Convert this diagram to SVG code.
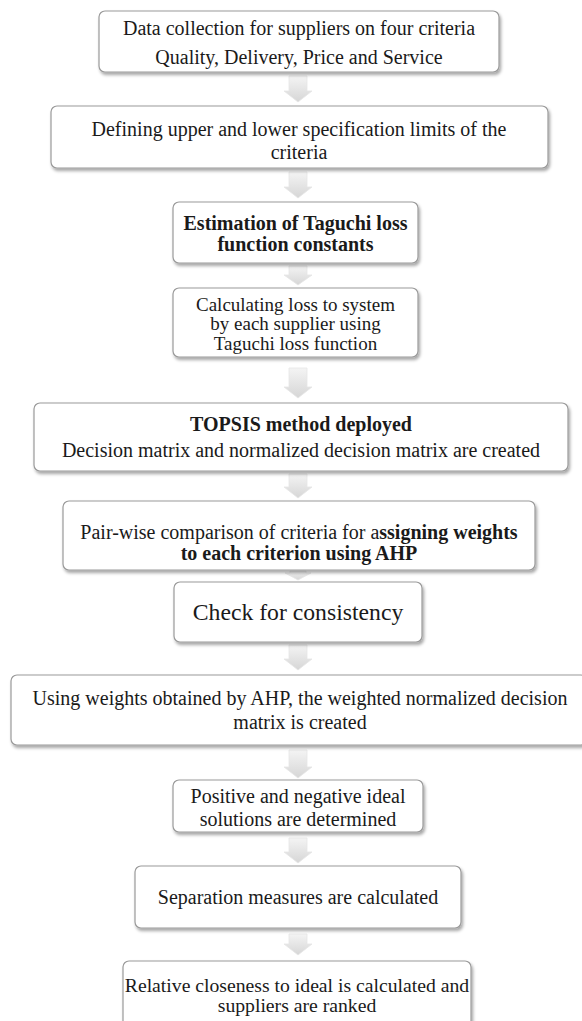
<svg xmlns="http://www.w3.org/2000/svg" width="582" height="1021" viewBox="0 0 582 1021">
<defs>
<filter id="sh" x="-10%" y="-20%" width="120%" height="150%">
<feDropShadow dx="1.5" dy="2.5" stdDeviation="1.8" flood-color="#000" flood-opacity="0.35"/>
</filter>
<linearGradient id="ag" x1="0" y1="0" x2="0" y2="1">
<stop offset="0" stop-color="#f4f4f4"/>
<stop offset="1" stop-color="#d6d6d6"/>
</linearGradient>
<style>
.box{fill:#fff;stroke:#9a9a9a;stroke-width:1.2;filter:url(#sh)}
.t{font-family:"Liberation Serif","Times New Roman",serif;fill:#1a1a1a;text-anchor:middle;font-size:20px}
.b{font-weight:bold}
.arr{fill:url(#ag);stroke:#e6e6e6;stroke-width:0.8}
</style>
</defs>
<g id="connectors">
<path class="arr" d="M289,76 h18 v15 h5 l-14,11 l-14,-11 h5 z"/>
<path class="arr" d="M289,172 h18 v15 h5 l-14,11 l-14,-11 h5 z"/>
<path class="arr" d="M289,266 h18 v9 h5 l-14,10 l-14,-10 h5 z"/>
<path class="arr" d="M289,368 h18 v19 h5 l-14,11 l-14,-11 h5 z"/>
<path class="arr" d="M289,474 h18 v13 h5 l-14,11 l-14,-11 h5 z"/>
<path class="arr" d="M290,571 h16 v2 h5 l-13,7 l-13,-7 h5 z"/>
<path class="arr" d="M289,645 h18 v14 h5 l-14,11 l-14,-11 h5 z"/>
<path class="arr" d="M289,750 h18 v17 h5 l-14,11 l-14,-11 h5 z"/>
<path class="arr" d="M289,838 h18 v14 h5 l-14,11 l-14,-11 h5 z"/>
<path class="arr" d="M289,934 h18 v10 h5 l-14,11 l-14,-11 h5 z"/>
</g>
<g id="n1">
<rect class="box" x="99" y="11" width="400" height="61" rx="6"/>
<text class="t" x="299" y="35">Data collection for suppliers on four criteria</text>
<text class="t" x="299" y="64">Quality, Delivery, Price and Service</text>
</g>
<g id="n2">
<rect class="box" x="51" y="106" width="497" height="62" rx="6"/>
<text class="t" x="299" y="136">Defining upper and lower specification limits of the</text>
<text class="t" x="299" y="159">criteria</text>
</g>
<g id="n3">
<rect class="box" x="173" y="202" width="245" height="61" rx="6"/>
<text class="t b" x="295.5" y="230">Estimation of Taguchi loss</text>
<text class="t b" x="295.5" y="251">function constants</text>
</g>
<g id="n4">
<rect class="box" x="173" y="288" width="245" height="69" rx="6"/>
<text class="t" x="295.5" y="310.5" style="font-size:19px">Calculating loss to system</text>
<text class="t" x="295.5" y="330" style="font-size:19px">by each supplier using</text>
<text class="t" x="295.5" y="349.5" style="font-size:19px">Taguchi loss function</text>
</g>
<g id="n5">
<rect class="box" x="34" y="403" width="534" height="68" rx="6"/>
<text class="t b" x="301" y="431">TOPSIS method deployed</text>
<text class="t" x="301" y="457">Decision matrix and normalized decision matrix are created</text>
</g>
<g id="n6">
<rect class="box" x="63" y="501" width="472" height="69" rx="6"/>
<text class="t" x="299" y="539">Pair-wise comparison of criteria for a<tspan class="b">ssigning weights</tspan></text>
<text class="t b" x="299" y="560">to each criterion using AHP</text>
</g>
<g id="n7">
<rect class="box" x="174" y="582" width="248" height="60" rx="6"/>
<text class="t" x="298" y="620" style="font-size:23.7px">Check for consistency</text>
</g>
<g id="n8">
<rect class="box" x="11" y="675" width="576" height="70" rx="6"/>
<text class="t" x="300" y="705">Using weights obtained by AHP, the weighted normalized decision</text>
<text class="t" x="300" y="729">matrix is created</text>
</g>
<g id="n9">
<rect class="box" x="173" y="780" width="250" height="52" rx="6"/>
<text class="t" x="298" y="803">Positive and negative ideal</text>
<text class="t" x="298" y="826">solutions are determined</text>
</g>
<g id="n10">
<rect class="box" x="135" y="866" width="326" height="62" rx="6"/>
<text class="t" x="298" y="904">Separation measures are calculated</text>
</g>
<g id="n11">
<rect class="box" x="123" y="961" width="348" height="70" rx="6"/>
<text class="t" x="297" y="992" style="font-size:19.7px">Relative closeness to ideal is calculated and</text>
<text class="t" x="297" y="1012" style="font-size:19.7px">suppliers are ranked</text>
</g>
</svg>
